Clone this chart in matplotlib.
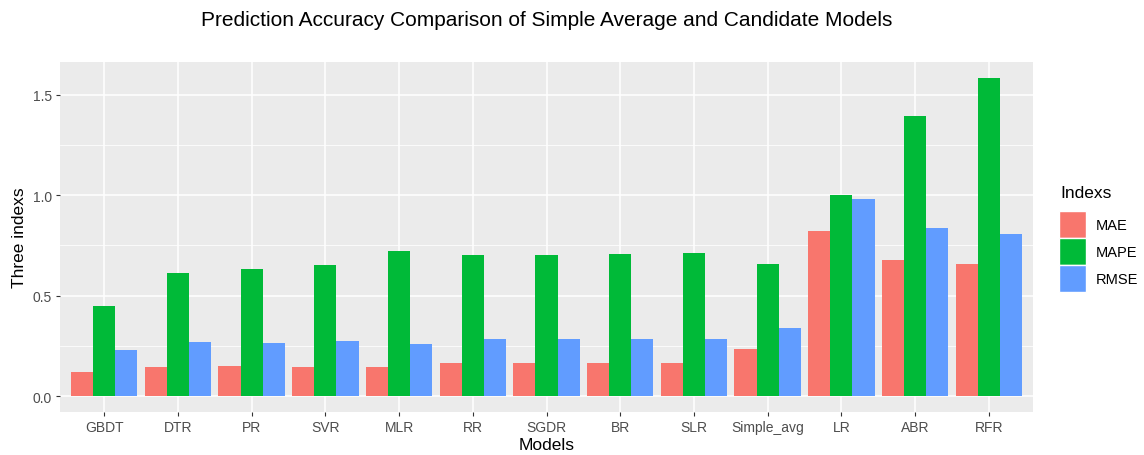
import matplotlib
matplotlib.use("Agg")
import matplotlib.pyplot as plt
import numpy as np
from matplotlib.patches import Patch
from matplotlib.ticker import MultipleLocator

models = ["GBDT", "DTR", "PR", "SVR", "MLR", "RR", "SGDR", "BR", "SLR",
          "Simple_avg", "LR", "ABR", "RFR"]
mae = [0.119, 0.144, 0.149, 0.144, 0.144, 0.163, 0.163, 0.163, 0.163,
       0.233, 0.823, 0.679, 0.659]
mape = [0.450, 0.614, 0.634, 0.653, 0.723, 0.703, 0.703, 0.708, 0.713,
        0.658, 1.001, 1.394, 1.583]
rmse = [0.228, 0.267, 0.262, 0.272, 0.257, 0.282, 0.282, 0.282, 0.282,
        0.337, 0.982, 0.837, 0.808]
series_names = ["MAE", "MAPE", "RMSE"]
colors = ["#F8766D", "#00BA38", "#619CFF"]

plt.rcParams['font.family'] = ['Liberation Sans', 'DejaVu Sans']

fig = plt.figure(figsize=(11.44, 4.56), dpi=100)
ax = fig.add_axes([60/1144, 43/456, (1033-60)/1144, (413-63)/456])
ax.set_facecolor("#EBEBEB")

x = np.arange(1, len(models) + 1)
w = 0.3
for i, (vals, c) in enumerate(zip([mae, mape, rmse], colors)):
    ax.bar(x + (i - 1) * w, vals, width=w, color=c, zorder=3, linewidth=0)

allv = mae + mape + rmse
ymax = max(allv)
ax.set_ylim(-0.05 * ymax, ymax * 1.05)
ax.set_xlim(0.4, len(models) + 0.6)
ax.yaxis.set_minor_locator(MultipleLocator(0.25))
ax.set_yticks(np.arange(0, 1.51, 0.5))
ax.set_yticklabels(["0.0", "0.5", "1.0", "1.5"])
ax.set_xticks(x)
ax.set_xticklabels(models)

ax.grid(which="major", color="white", linewidth=1.1, zorder=0)
ax.grid(which="minor", axis="y", color="white", linewidth=0.55, zorder=0)
ax.set_axisbelow(True)
for s in ax.spines.values():
    s.set_visible(False)
ax.tick_params(axis="both", which="major", length=3, width=0.8, color="#333333",
               labelcolor="#4D4D4D", labelsize=10, pad=3)
ax.tick_params(axis="y", which="minor", length=0)

ax.set_xlabel("Models", fontsize=12.5, color="black", labelpad=2)
ax.set_ylabel("Three indexs", fontsize=12.5, color="black", labelpad=4)
fig.text((60 + 1033) / 2 / 1144, 1 - 20 / 456,
         "Prediction Accuracy Comparison of Simple Average and Candidate Models",
         ha="center", va="center", fontsize=15)

# legend title
fig.text(1060 / 1144, 1 - 193 / 456, "Indexs", ha="left", va="center", fontsize=12.5)
handles = [Patch(facecolor=c, edgecolor="white", linewidth=1) for c in colors]
leg = fig.legend(handles, series_names, loc="upper left",
                 bbox_to_anchor=(1059/1144, 1 - 212/456), frameon=False, fontsize=10.5,
                 handlelength=1.85, handleheight=2.47,
                 labelspacing=0.0, handletextpad=0.65, borderaxespad=0, borderpad=0)

fig.savefig("out.png", dpi=100)
